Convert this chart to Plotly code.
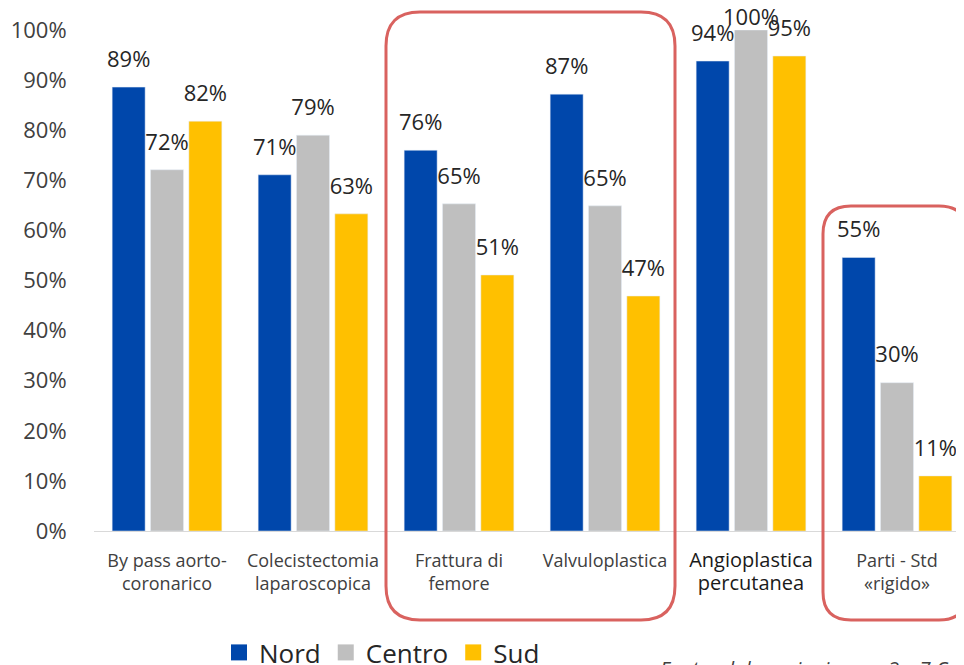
import plotly.graph_objects as go

categories = [
    "By pass aorto-<br>coronarico",
    "Colecistectomia<br>laparoscopica",
    "Frattura di<br>femore",
    "Valvuloplastica",
    "<span style='font-size:20px;fill:#1a1a1a'>Angioplastica<br>percutanea</span>",
    "Parti - Std<br>«rigido»",
]
series_names = ["Nord", "Centro", "Sud"]
nord = [88.6, 71.1, 76.0, 87.2, 93.8, 54.6]
centro = [72.1, 79.0, 65.3, 64.9, 100.0, 29.6]
sud = [81.8, 63.3, 51.1, 46.9, 94.8, 11.0]
colors = ["#0047AB", "#BFBFBF", "#FFC000"]
y_ticks = list(range(0, 101, 10))

OFF = 8  # page body margin
W, H = 964 - OFF, 665 - OFF
# targets in page pixels
L_pg, R_pg, TOP_pg, BOT_pg = 94, 964, 30, 531
L, R_EDGE, TOP, BOT = L_pg - OFF, R_pg - OFF, TOP_pg - OFF, BOT_pg - OFF
PW = R_EDGE - L
PH = BOT - TOP

x_idx = list(range(len(categories)))
fig = go.Figure()
for i, (name, vals) in enumerate(zip(series_names, [nord, centro, sud])):
    fig.add_trace(go.Bar(
        x=x_idx, y=vals, name=name, marker_color=colors[i],
        offsetgroup=str(i), showlegend=False, hoverinfo="skip",
    ))
for i, (name, vals) in enumerate(zip(series_names, [nord, centro, sud])):
    # labels that would leave the chart top are pulled closer to the bar (as Excel does)
    sizes = [0 if v >= 99.5 else 22 for v in vals]
    fig.add_trace(go.Scatter(
        x=x_idx, y=vals, mode="markers+text", offsetgroup=str(i),
        text=[f"{v:.0f}%" for v in vals], textposition="top center",
        textfont=dict(size=22, color="#262626", family="Open Sans"),
        marker=dict(size=sizes, opacity=0), showlegend=False, hoverinfo="skip",
        cliponaxis=False,
    ))
for i, name in enumerate(series_names):
    fig.add_trace(go.Scatter(
        x=[None], y=[None], mode="markers", name=name,
        marker=dict(symbol="square", size=18, color=colors[i]),
    ))


def px2paper(px, py):
    # px, py given in page pixels
    return (px - L_pg) / PW, (BOT_pg - py) / PH


def rounded_rect(x0, y0, x1, y1, r):
    def P(x, y):
        a, b = px2paper(x, y)
        return f"{a:.5f},{b:.5f}"
    d = (f"M {P(x0 + r, y0)} L {P(x1 - r, y0)} Q {P(x1, y0)} {P(x1, y0 + r)} "
         f"L {P(x1, y1 - r)} Q {P(x1, y1)} {P(x1 - r, y1)} "
         f"L {P(x0 + r, y1)} Q {P(x0, y1)} {P(x0, y1 - r)} "
         f"L {P(x0, y0 + r)} Q {P(x0, y0)} {P(x0 + r, y0)} Z")
    return d


shapes = [
    dict(type="path", xref="paper", yref="paper",
         path=rounded_rect(386, 12, 675, 620, 34),
         line=dict(color="#D9625F", width=3)),
    dict(type="path", xref="paper", yref="paper",
         path=rounded_rect(823, 206, 967, 620, 28),
         line=dict(color="#D9625F", width=3)),
]

fig.update_layout(
    width=W, height=H,
    margin=dict(l=L, r=W - R_EDGE, t=TOP, b=H - BOT, autoexpand=False),
    paper_bgcolor="white", plot_bgcolor="white",
    barmode="group", bargap=0.212, bargroupgap=0.14,
    scattermode="group", scattergap=0.212,
    font=dict(family="Open Sans", color="#404040"),
    shapes=shapes,
    showlegend=True,
    legend=dict(orientation="h", xref="container", yref="container",
                x=(219 - OFF) / W, xanchor="left", y=(H - (629 - OFF)) / H, yanchor="top",
                font=dict(size=26, color="#262626", family="Open Sans"),
                itemclick=False, itemdoubleclick=False, traceorder="normal"),
    annotations=[dict(
        text="<i>Fonte: elaborazioni capp. 3 e 7 C</i>", xref="paper", yref="paper",
        x=(658 - L_pg) / PW, y=(BOT_pg - 668) / PH, xanchor="left", yanchor="middle",
        showarrow=False, font=dict(size=20, color="#404040", family="Open Sans"),
    )],
)
fig.update_xaxes(
    tickmode="array", tickvals=x_idx, ticktext=categories,
    range=[-0.5, -0.5 + PW / 146.0], automargin=False,
    showline=True, linecolor="#D9D9D9", linewidth=1, showgrid=False,
    tickfont=dict(size=18, color="#404040", family="Open Sans"),
    ticks="outside", ticklen=13, tickcolor="rgba(0,0,0,0)",
    zeroline=False,
)
fig.update_yaxes(
    range=[0, 100], tickvals=y_ticks, ticktext=[f"{t}%" for t in y_ticks],
    showgrid=False, zeroline=False, showline=False, automargin=False,
    tickfont=dict(size=22, color="#404040", family="Open Sans"),
    ticks="outside", ticklen=22, tickcolor="rgba(0,0,0,0)",
)

fig.write_html("out.html")
